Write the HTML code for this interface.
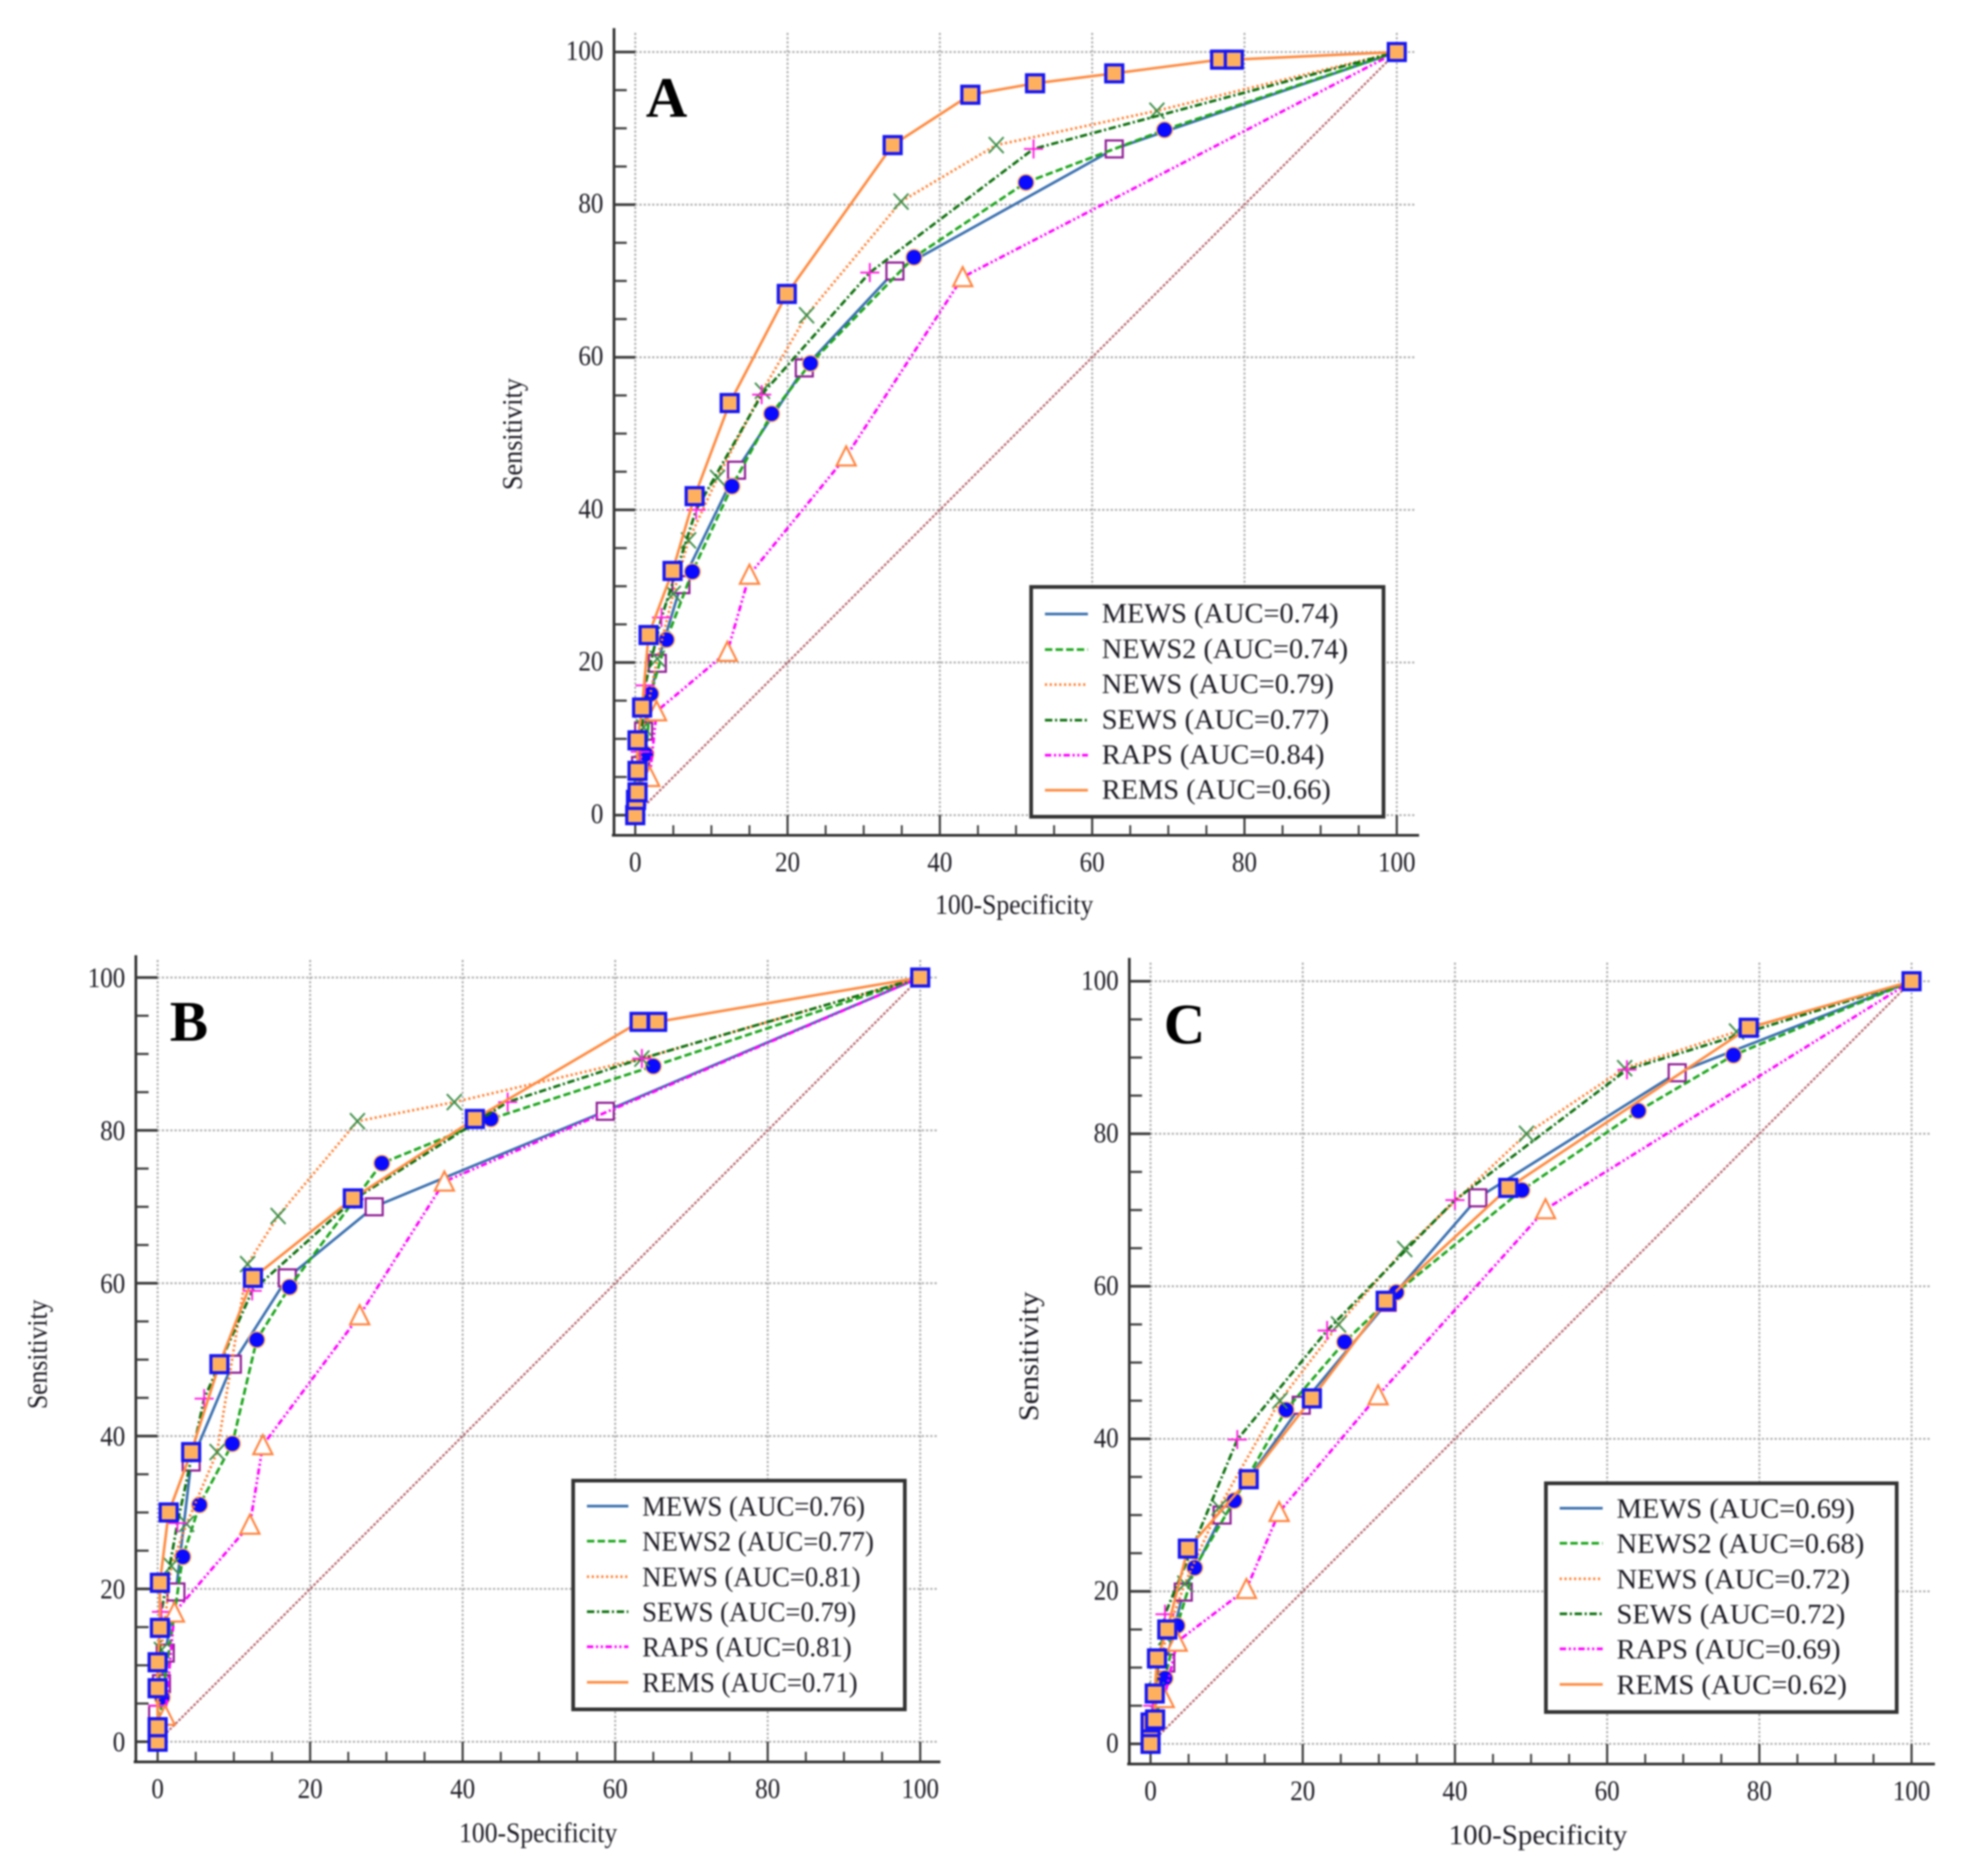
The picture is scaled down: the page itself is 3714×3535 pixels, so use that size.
<!DOCTYPE html>
<html lang="en">
<head>
<meta charset="utf-8">
<title>ROC curves of early warning scores</title>
<style>
html,body{margin:0;padding:0;background:#fff;}
#figure{display:block;width:3714px;height:3535px;filter:blur(1.5px);font-family:"Liberation Serif",serif;}
text{fill:#1c1c24;font-family:"Liberation Serif",serif;}
.leg{font-size:53px;}
.ttl{font-size:53px;}
.letter{font-size:108px;font-weight:bold;fill:#000;}
.box{fill:#fff;stroke:#333;stroke-width:7;}
</style>
</head>
<body>
<svg id="figure" xmlns="http://www.w3.org/2000/svg" width="3714" height="3535" viewBox="0 0 3714 3535">
  <rect x="0" y="0" width="3714" height="3535" fill="#fff"/>

  <g id="panel-a">
    <g id="plot-a"></g>
    <text class="letter" x="1217" y="220">A</text>
    <text class="ttl" transform="translate(1911,1722) scale(.912,1)" text-anchor="middle">100-Specificity</text>
    <text class="ttl" transform="translate(983,818) rotate(-90) scale(.93,1)" text-anchor="middle">Sensitivity</text>
    <g>
      <rect class="box" x="1943" y="1106" width="664" height="433"/>
      <line x1="1969" x2="2050" y1="1157" y2="1157" stroke="#3a70b0" stroke-width="5"/>
      <line x1="1969" x2="2050" y1="1224" y2="1224" stroke="#1aa51a" stroke-width="5" stroke-dasharray="14 6"/>
      <line x1="1969" x2="2050" y1="1290" y2="1290" stroke="#ff7f30" stroke-width="5" stroke-dasharray="4 5"/>
      <line x1="1969" x2="2050" y1="1357" y2="1357" stroke="#0e700e" stroke-width="5" stroke-dasharray="14 5 4 5"/>
      <line x1="1969" x2="2050" y1="1423" y2="1423" stroke="#ff00ff" stroke-width="5" stroke-dasharray="12 5 4 5 4 5"/>
      <line x1="1969" x2="2050" y1="1489" y2="1489" stroke="#ff8c42" stroke-width="5"/>
      <text class="leg" transform="translate(2076,1173) scale(1.01,1)">MEWS (AUC=0.74)</text>
      <text class="leg" transform="translate(2076,1240) scale(1.01,1)">NEWS2 (AUC=0.74)</text>
      <text class="leg" transform="translate(2076,1306) scale(1.01,1)">NEWS (AUC=0.79)</text>
      <text class="leg" transform="translate(2076,1373) scale(1.01,1)">SEWS (AUC=0.77)</text>
      <text class="leg" transform="translate(2076,1439) scale(1.01,1)">RAPS (AUC=0.84)</text>
      <text class="leg" transform="translate(2076,1505) scale(1.01,1)">REMS (AUC=0.66)</text>
    </g>
  </g>

  <g id="panel-b">
    <g id="plot-b"></g>
    <text class="letter" x="320" y="1961">B</text>
    <text class="ttl" transform="translate(1014,3471) scale(.912,1)" text-anchor="middle">100-Specificity</text>
    <text class="ttl" transform="translate(88,2552) rotate(-90) scale(.91,1)" text-anchor="middle">Sensitivity</text>
    <g>
      <rect class="box" x="1080" y="2790" width="625" height="431"/>
      <line x1="1106" x2="1184" y1="2838" y2="2838" stroke="#3a70b0" stroke-width="5"/>
      <line x1="1106" x2="1184" y1="2904" y2="2904" stroke="#1aa51a" stroke-width="5" stroke-dasharray="14 6"/>
      <line x1="1106" x2="1184" y1="2971" y2="2971" stroke="#ff7f30" stroke-width="5" stroke-dasharray="4 5"/>
      <line x1="1106" x2="1184" y1="3037" y2="3037" stroke="#0e700e" stroke-width="5" stroke-dasharray="14 5 4 5"/>
      <line x1="1106" x2="1184" y1="3103" y2="3103" stroke="#ff00ff" stroke-width="5" stroke-dasharray="12 5 4 5 4 5"/>
      <line x1="1106" x2="1184" y1="3170" y2="3170" stroke="#ff8c42" stroke-width="5"/>
      <text class="leg" transform="translate(1210,2856) scale(.95,1)">MEWS (AUC=0.76)</text>
      <text class="leg" transform="translate(1210,2922) scale(.95,1)">NEWS2 (AUC=0.77)</text>
      <text class="leg" transform="translate(1210,2989) scale(.95,1)">NEWS (AUC=0.81)</text>
      <text class="leg" transform="translate(1210,3055) scale(.95,1)">SEWS (AUC=0.79)</text>
      <text class="leg" transform="translate(1210,3121) scale(.95,1)">RAPS (AUC=0.81)</text>
      <text class="leg" transform="translate(1210,3188) scale(.95,1)">REMS (AUC=0.71)</text>
    </g>
  </g>

  <g id="panel-c">
    <g id="plot-c"></g>
    <text class="letter" x="2193" y="1966">C</text>
    <text class="ttl" transform="translate(2898,3475) scale(1.03,1)" text-anchor="middle">100-Specificity</text>
    <text class="ttl" transform="translate(1956,2556) rotate(-90) scale(1.076,1)" text-anchor="middle">Sensitivity</text>
    <g>
      <rect class="box" x="2913" y="2795" width="661" height="431"/>
      <line x1="2939" x2="3020" y1="2842" y2="2842" stroke="#3a70b0" stroke-width="5"/>
      <line x1="2939" x2="3020" y1="2908" y2="2908" stroke="#1aa51a" stroke-width="5" stroke-dasharray="14 6"/>
      <line x1="2939" x2="3020" y1="2975" y2="2975" stroke="#ff7f30" stroke-width="5" stroke-dasharray="4 5"/>
      <line x1="2939" x2="3020" y1="3041" y2="3041" stroke="#0e700e" stroke-width="5" stroke-dasharray="14 5 4 5"/>
      <line x1="2939" x2="3020" y1="3107" y2="3107" stroke="#ff00ff" stroke-width="5" stroke-dasharray="12 5 4 5 4 5"/>
      <line x1="2939" x2="3020" y1="3174" y2="3174" stroke="#ff8c42" stroke-width="5"/>
      <text class="leg" transform="translate(3046,2860) scale(1.016,1)">MEWS (AUC=0.69)</text>
      <text class="leg" transform="translate(3046,2926) scale(1.016,1)">NEWS2 (AUC=0.68)</text>
      <text class="leg" transform="translate(3046,2993) scale(1.016,1)">NEWS (AUC=0.72)</text>
      <text class="leg" transform="translate(3046,3059) scale(1.016,1)">SEWS (AUC=0.72)</text>
      <text class="leg" transform="translate(3046,3125) scale(1.016,1)">RAPS (AUC=0.69)</text>
      <text class="leg" transform="translate(3046,3192) scale(1.016,1)">REMS (AUC=0.62)</text>
    </g>
  </g>
</svg>

<script>
/* tick labels */
var majorTicks = [0, 20, 40, 60, 80, 100];
var minorTicks = [5, 10, 15, 25, 30, 35, 45, 50, 55, 65, 70, 75, 85, 90, 95];

/* Panel A: 100-specificity (x) and sensitivity (y) */
var a_mews_x = [0, 0.7, 1.1, 2.9, 6, 13.3, 22.2, 34.1, 62.9, 100];
var a_mews_y = [0, 6.5, 11, 19.9, 30.2, 45.2, 58.6, 71.3, 87.3, 100];
var a_news2_x = [0, 1.4, 2.05, 4.1, 7.5, 12.7, 17.9, 23, 36.6, 51.3, 69.5, 100];
var a_news2_y = [0, 8, 15.9, 23, 31.9, 43.1, 52.6, 59.2, 73.1, 82.9, 89.8, 100];
var a_news_x = [0, 0.5, 1.1, 2.9, 5, 7, 10.8, 16.7, 22.5, 34.9, 47.4, 68.5, 100];
var a_news_y = [0, 5, 11.5, 20.5, 29, 36, 44.2, 55.6, 65.5, 80.4, 87.8, 92.3, 100];
var a_sews_x = [0, 0.65, 1.3, 3.45, 8, 16.6, 30.8, 52.3, 100];
var a_sews_y = [0, 8.3, 17, 25.9, 40, 55.1, 71.1, 87.3, 100];
var a_raps_x = [0, 1.9, 2.8, 12.1, 15, 27.7, 43, 100];
var a_raps_y = [0, 5, 13.6, 21.4, 31.5, 47, 70.5, 100];
var a_rems_x = [0, 0.1, 0.3, 0.3, 0.3, 0.9, 1.75, 4.9, 7.8, 12.4, 19.9, 33.8, 44, 52.5, 62.9, 76.8, 78.6, 100];
var a_rems_y = [0, 2, 3, 5.8, 9.8, 14.1, 23.6, 32, 41.8, 54, 68.3, 87.8, 94.4, 95.9, 97.2, 99, 99, 100];

/* Panel B */
var b_mews_x = [0, 0, 0.5, 1, 2.4, 4.4, 9.8, 17, 28.4, 58.7, 100];
var b_mews_y = [0, 3.6, 7.6, 11.6, 19.6, 36.6, 49.4, 60.7, 70, 82.5, 100];
var b_news2_x = [0, 0.6, 3.3, 5.5, 9.8, 13, 17.3, 29.4, 43.7, 65, 100];
var b_news2_y = [0, 5.8, 24.2, 31, 39, 52.6, 59.5, 75.7, 81.5, 88.4, 100];
var b_news_x = [0, 0.5, 1.8, 3.8, 7.8, 11.8, 15.8, 26.2, 38.9, 63.5, 100];
var b_news_y = [0, 12, 23, 28.5, 37.9, 62.5, 68.8, 81.2, 83.7, 89.4, 100];
var b_sews_x = [0, 0, 0.5, 2.6, 6.1, 12.4, 25.8, 45.9, 63.5, 100];
var b_sews_y = [0, 4.7, 17, 28.6, 44.9, 59, 71, 83.7, 89.4, 100];
var b_raps_x = [0, 1, 2.2, 12.1, 13.8, 26.5, 37.6, 100];
var b_raps_y = [0, 3.4, 16.9, 28.4, 38.8, 55.8, 73.3, 100];
var b_rems_x = [0, 0, 0, 0, 0.3, 0.3, 1.45, 4.4, 8.1, 12.5, 25.6, 41.6, 63.2, 65.5, 100];
var b_rems_y = [0, 1.9, 7, 10.4, 14.9, 20.8, 30, 37.9, 49.4, 60.7, 71.1, 81.5, 94.2, 94.2, 100];

/* Panel C */
var c_mews_x = [0, 0.5, 2, 4.3, 9.4, 19.8, 31.1, 43, 69.2, 100];
var c_mews_y = [0, 3, 10.6, 19.9, 30, 44.4, 57.9, 71.6, 88, 100];
var c_news2_x = [0, 1.9, 3.5, 5.8, 11, 17.8, 25.5, 32.3, 48.8, 64.1, 76.6, 100];
var c_news2_y = [0, 8.6, 15.5, 23.1, 31.9, 43.8, 52.7, 59.2, 72.6, 83, 90.3, 100];
var c_news_x = [0, 0.8, 2, 4.5, 9, 17, 24.7, 33.4, 49.4, 62.3, 77, 100];
var c_news_y = [0, 7, 14, 21, 31, 45, 55, 64.9, 80, 88.6, 93.4, 100];
var c_sews_x = [0, 0.3, 1.9, 11.4, 23.2, 40, 62.6, 100];
var c_sews_y = [0, 5, 17, 39.9, 54.2, 71.3, 88.4, 100];
var c_raps_x = [0, 1.8, 3.5, 12.6, 16.9, 29.9, 51.9, 100];
var c_raps_y = [0, 6, 13.4, 20.3, 30.4, 45.7, 70.1, 100];
var c_rems_x = [0, 0, 0, 0.6, 0.55, 0.85, 2.2, 4.9, 12.9, 21.2, 30.9, 47, 78.6, 100];
var c_rems_y = [0, 2.2, 2.8, 3.2, 6.6, 11.2, 15, 25.6, 34.7, 45.3, 58.1, 72.9, 93.9, 100];

var NS = 'http://www.w3.org/2000/svg';

function make(tag, parent, attrs) {
  var el = document.createElementNS(NS, tag);
  for (var k in attrs) { el.setAttribute(k, attrs[k]); }
  parent.appendChild(el);
  return el;
}

function drawAxes(g, p, sx, sy) {
  var i, v, el;
  var gridStyle = {stroke: '#a8a8a8', 'stroke-width': 3.5, 'stroke-dasharray': '4 4'};
  for (i = 0; i < majorTicks.length; i++) {
    v = majorTicks[i];
    el = make('line', g, {x1: sx(v), x2: sx(v), y1: p.top + 9, y2: sy(0), stroke: gridStyle.stroke, 'stroke-width': gridStyle['stroke-width'], 'stroke-dasharray': gridStyle['stroke-dasharray']});
    
    
    el = make('line', g, {x1: sx(0), x2: p.right - 7, y1: sy(v), y2: sy(v), stroke: gridStyle.stroke, 'stroke-width': gridStyle['stroke-width'], 'stroke-dasharray': gridStyle['stroke-dasharray']});
    
    
  }
  el = make('line', g, {x1: sx(0), y1: sy(0), x2: sx(100), y2: sy(100), stroke: '#b8656c', 'stroke-width': 4, 'stroke-dasharray': '5 3'});
  
  

  el = make('line', g, {x1: p.left, x2: p.left, y1: p.top, y2: p.bottom + 2, stroke: '#2e2e2e', 'stroke-width': 5});
  
  
  el = make('line', g, {x1: p.left - 4, x2: p.right, y1: p.bottom, y2: p.bottom, stroke: '#2e2e2e', 'stroke-width': 5});
  
  

  for (i = 0; i < minorTicks.length; i++) {
    v = minorTicks[i];
    el = make('line', g, {x1: sx(v), x2: sx(v), y1: p.bottom, y2: p.bottom - 19, stroke: '#3a3a3a', 'stroke-width': 3.5});
    
    
    el = make('line', g, {x1: p.left, x2: p.left + 24, y1: sy(v), y2: sy(v), stroke: '#3a3a3a', 'stroke-width': 4});
    
    
  }
  for (i = 0; i < majorTicks.length; i++) {
    v = majorTicks[i];
    el = make('line', g, {x1: sx(v), x2: sx(v), y1: p.bottom, y2: p.bottom - 38, stroke: '#3a3a3a', 'stroke-width': 4});
    
    
    el = make('line', g, {x1: p.left, x2: sx(0), y1: sy(v), y2: sy(v), stroke: '#3a3a3a', 'stroke-width': 5});
    
    

    el = make('text', g, {'text-anchor': 'middle', 'font-size': 53, transform: 'translate(' + sx(v) + ',' + (p.bottom + 68) + ') scale(.89,1)'});
    el.textContent = String(v);
    
    
    el = make('text', g, {'text-anchor': 'end', 'font-size': 53, transform: 'translate(' + (p.left - 20) + ',' + (sy(v) + p.labelDy) + ') scale(.89,1)'});
    el.textContent = String(v);
    
    
  }
}

function drawMarker(g, kind, x, y, name) {
  var el;
  if (kind === 'open-square') {
    el = make('rect', g, {x: x - 16, y: y - 16, width: 32, height: 32, fill: '#fff', stroke: '#8e1a94', 'stroke-width': 4});
  } else if (kind === 'circle') {
    el = make('circle', g, {cx: x, cy: y, r: 15, fill: '#0a0aff', stroke: '#ffb060', 'stroke-width': 2.5});
  } else if (kind === 'cross') {
    el = make('path', g, {d: 'M' + (x - 14) + ' ' + (y - 15) + 'L' + (x + 14) + ' ' + (y + 15) + 'M' + (x + 14) + ' ' + (y - 15) + 'L' + (x - 14) + ' ' + (y + 15), fill: 'none', stroke: '#3f8f4a', 'stroke-width': 3.5});
  } else if (kind === 'plus') {
    el = make('path', g, {d: 'M' + (x - 18) + ' ' + y + 'L' + (x + 18) + ' ' + y + 'M' + x + ' ' + (y - 18) + 'L' + x + ' ' + (y + 18), fill: 'none', stroke: '#ff20e0', 'stroke-width': 3.5});
  } else if (kind === 'triangle') {
    el = make('path', g, {d: 'M' + x + ' ' + (y - 19) + 'L' + (x + 18) + ' ' + (y + 17) + 'L' + (x - 18) + ' ' + (y + 17) + 'Z', fill: '#fff', stroke: '#ff8540', 'stroke-width': 4});
  } else {
    el = make('rect', g, {x: x - 16, y: y - 16, width: 32, height: 32, fill: '#ffb05e', stroke: '#1616f5', 'stroke-width': 6});
  }
  
  
}

function drawSeries(g, name, xs, ys, style, sx, sy) {
  var sg = make('g', g, {});
  
  
  var pts = [];
  for (var i = 0; i < xs.length; i++) { pts.push(sx(xs[i]) + ',' + sy(ys[i])); }
  var line = make('polyline', sg, {points: pts.join(' '), fill: 'none', stroke: style.color, 'stroke-width': 5, 'stroke-dasharray': style.dash});
  
  
  for (var j = 0; j < xs.length; j++) {
    if (style.marker !== 'rems-square' && xs[j] === 100) { continue; }
    if (style.marker !== 'rems-square' && xs[j] === 0 && ys[j] === 0) { continue; }
    drawMarker(sg, style.marker, sx(xs[j]), sy(ys[j]), name + '-point');
  }
}

var styleMews = {color: '#3a70b0', dash: 'none', marker: 'open-square'};
var styleNews2 = {color: '#1aa51a', dash: '14 6', marker: 'circle'};
var styleNews = {color: '#ff7f30', dash: '4 5', marker: 'cross'};
var styleSews = {color: '#0e700e', dash: '14 5 4 5', marker: 'plus'};
var styleRaps = {color: '#ff00ff', dash: '12 5 4 5 4 5', marker: 'triangle'};
var styleRems = {color: '#ff8c42', dash: 'none', marker: 'rems-square'};

function drawPanel(id, p, d) {
  var g = document.getElementById(id);
  var sx = function (v) { return p.x0 + p.xu * v; };
  var sy = function (v) { return p.y0 - p.yu * v; };
  drawAxes(g, p, sx, sy);
  drawSeries(g, 'mews', d[0], d[1], styleMews, sx, sy);
  drawSeries(g, 'news2', d[2], d[3], styleNews2, sx, sy);
  drawSeries(g, 'news', d[4], d[5], styleNews, sx, sy);
  drawSeries(g, 'sews', d[6], d[7], styleSews, sx, sy);
  drawSeries(g, 'raps', d[8], d[9], styleRaps, sx, sy);
  drawSeries(g, 'rems', d[10], d[11], styleRems, sx, sy);
}

drawPanel('plot-a', {x0: 1197, xu: 14.35, y0: 1536, yu: 14.38, left: 1157, bottom: 1574, top: 53, right: 2674, labelDy: 15},
  [a_mews_x, a_mews_y, a_news2_x, a_news2_y, a_news_x, a_news_y, a_sews_x, a_sews_y, a_raps_x, a_raps_y, a_rems_x, a_rems_y]);
drawPanel('plot-b', {x0: 297, xu: 14.37, y0: 3282, yu: 14.4, left: 256, bottom: 3320, top: 1800, right: 1772, labelDy: 18},
  [b_mews_x, b_mews_y, b_news2_x, b_news2_y, b_news_x, b_news_y, b_sews_x, b_sews_y, b_raps_x, b_raps_y, b_rems_x, b_rems_y]);
drawPanel('plot-c', {x0: 2168, xu: 14.34, y0: 3286, yu: 14.37, left: 2128, bottom: 3324, top: 1805, right: 3646, labelDy: 16},
  [c_mews_x, c_mews_y, c_news2_x, c_news2_y, c_news_x, c_news_y, c_sews_x, c_sews_y, c_raps_x, c_raps_y, c_rems_x, c_rems_y]);
</script>
</body>
</html>
